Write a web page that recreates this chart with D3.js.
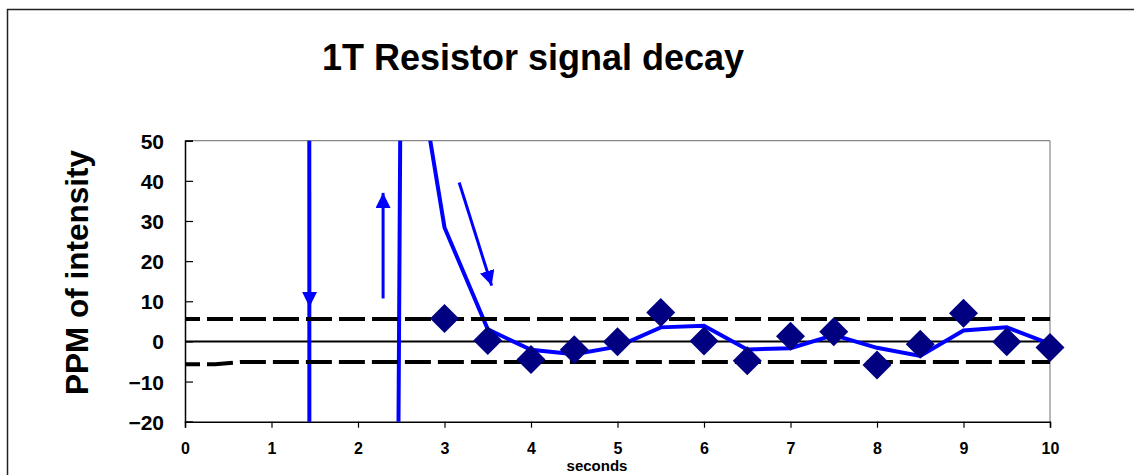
<!DOCTYPE html>
<html><head><meta charset="utf-8">
<script src="https://cdn.jsdelivr.net/npm/d3@7/dist/d3.min.js"></script>
<style>
body{margin:0;background:#fff;}
text{font-family:Arial,"Liberation Sans",sans-serif;font-weight:bold;fill:#000;}
</style></head>
<body><svg id="c" width="1134" height="475"></svg>
<script>
// ---- data ----
const title = "1T Resistor signal decay";
const xLabel = "seconds";
const yLabel = "PPM of intensity";
const xTicks = [0,1,2,3,4,5,6,7,8,9,10];
const yTicks = [-20,-10,0,10,20,30,40,50];
// measured points (diamonds)
const pointX = [3,3.5,4,4.5,5,5.5,6,6.5,7,7.5,8,8.5,9,9.5,10];
const pointY = [5.7,0.2,-4.5,-2.1,-0.1,7.2,0.1,-4.8,1.3,2.4,-5.9,-0.7,7.0,-0.1,-1.5];
// smoothed signal (blue line)
const lineX = [1,1.5,2,2.5,3,3.5,4,4.5,5,5.5,6,6.5,7,7.5,8,8.5,9,9.5,10];
const lineY = [35000,-5000,-1700,94,28.4,3.0,-2.1,-3.2,-1.3,3.5,3.9,-2.0,-1.7,1.6,-1.6,-3.6,2.7,3.5,-0.6];
// limit bands (dashed)
const upperX = [0,10];
const upperY = [5.6,5.6];
const lowerX = [0,0.35,0.65,10];
const lowerY = [-5.7,-5.7,-5.1,-5.1];
// annotation arrows (data units)
const arrowX1 = [1.44,2.29,3.17];
const arrowY1 = [37.2,10.7,39.6];
const arrowX2 = [1.44,2.29,3.545];
const arrowY2 = [8.6,37.0,13.9];

// ---- layout ----
const svg = d3.select("#c");
const L=185, R=1050, T=140.7, B=421.7;
const x = d3.scaleLinear().domain([0,10]).range([L,R]);
const y = d3.scaleLinear().domain([-20,50]).range([B,T]);

// outer frame
svg.append("rect").attr("x",7.5).attr("y",9.5).attr("width",1200).attr("height",600)
  .attr("fill","none").attr("stroke","#222").attr("stroke-width",1.5);

svg.append("text").attr("x",533).attr("y",70).attr("text-anchor","middle")
  .style("font-size","36px").text(title);

// plot frame: gray top/right
svg.append("line").attr("x1",L).attr("x2",R).attr("y1",T).attr("y2",T).attr("stroke","#888").attr("stroke-width",1.2);
svg.append("line").attr("x1",R).attr("x2",R).attr("y1",T).attr("y2",B).attr("stroke","#888").attr("stroke-width",1.2);

// axes
const gx = svg.append("g").attr("transform",`translate(0,${B})`)
  .call(d3.axisBottom(x).tickValues(xTicks).tickSize(6).tickPadding(0).tickFormat(d3.format("d")));
gx.select(".domain").attr("stroke","#000").attr("stroke-width",1.5);
gx.selectAll(".tick line").attr("stroke","#000").attr("stroke-width",1.2);
gx.selectAll(".tick text").attr("y",32.8).attr("dy",null).style("font-size","16px")
  .style("font-family","Arial,'Liberation Sans',sans-serif").style("font-weight","bold");

const gy = svg.append("g").attr("transform",`translate(${L},0)`)
  .call(d3.axisLeft(y).tickValues(yTicks).tickSize(-8).tickPadding(0).tickFormat(d3.format("d")));
gy.select(".domain").attr("stroke","#000").attr("stroke-width",1.5);
gy.selectAll(".tick line").attr("stroke","#000").attr("stroke-width",1.2);
gy.selectAll(".tick text").attr("x",-21).attr("dy","0.36em").style("font-size","21px")
  .style("font-family","Arial,'Liberation Sans',sans-serif").style("font-weight","bold");

svg.append("text").attr("x",597).attr("y",471.3).attr("text-anchor","middle")
  .style("font-size","15px").text(xLabel);
svg.append("text").attr("transform",`translate(88,272.5) rotate(-90)`).attr("text-anchor","middle")
  .style("font-size","31.5px").text(yLabel);

// clip
svg.append("clipPath").attr("id","clip").append("rect").attr("x",L).attr("y",T).attr("width",R-L).attr("height",B-T);
const plot = svg.append("g").attr("clip-path","url(#clip)");

// zero line
plot.append("line").attr("x1",x(0)-3).attr("x2",x(10)).attr("y1",y(0)).attr("y2",y(0))
  .attr("stroke","#000").attr("stroke-width",2);

const line = d3.line().x(d=>x(d[0])).y(d=>y(d[1]));
// dashed bands
svg.append("path").attr("d",line(upperX.map((v,i)=>[v,upperY[i]]))).attr("fill","none")
  .attr("stroke","#000").attr("stroke-width",4).attr("stroke-dasharray","26,7").attr("stroke-dashoffset",11);
svg.append("path").attr("d",line(lowerX.map((v,i)=>[v,lowerY[i]]))).attr("fill","none")
  .attr("stroke","#000").attr("stroke-width",4).attr("stroke-dasharray","26,7").attr("stroke-dashoffset",11);

// diamonds
const diamond = d3.symbol().type(d3.symbolSquare).size(420);
svg.append("g").selectAll("path").data(pointX.map((v,i)=>[v,pointY[i]])).join("path")
  .attr("d",diamond).attr("transform",d=>`translate(${x(d[0])},${y(d[1])}) rotate(45)`)
  .attr("fill","#000080");

// blue line
plot.append("path").attr("d",line(lineX.map((v,i)=>[v,lineY[i]]))).attr("fill","none")
  .attr("stroke","#0000FF").attr("stroke-width",4).attr("stroke-linejoin","miter");

// arrows
const defs = svg.append("defs");
defs.append("marker").attr("id","ah").attr("viewBox","0 0 10 10").attr("refX",10).attr("refY",5)
  .attr("markerUnits","userSpaceOnUse").attr("markerWidth",15).attr("markerHeight",15).attr("orient","auto")
  .append("path").attr("d","M0,0 L10,5 L0,10 Z").attr("fill","#0000FF");
svg.append("g").selectAll("line").data(arrowX1.map((v,i)=>i)).join("line")
  .attr("x1",i=>x(arrowX1[i])).attr("y1",i=>y(arrowY1[i]))
  .attr("x2",i=>x(arrowX2[i])).attr("y2",i=>y(arrowY2[i]))
  .attr("stroke","#0000FF").attr("stroke-width",3).attr("marker-end","url(#ah)");
</script></body></html>
